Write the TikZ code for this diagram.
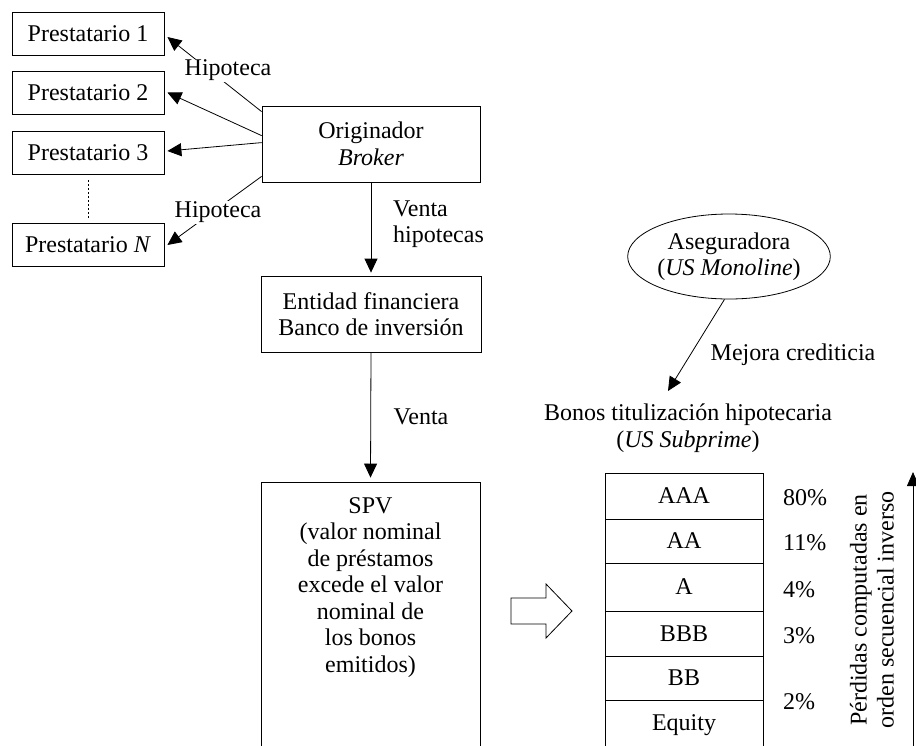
\documentclass[tikz,border=0pt]{standalone}
\usepackage{fontspec}
\setmainfont{Liberation Serif}
\usetikzlibrary{arrows.meta,shapes.geometric}
\begin{document}
\begin{tikzpicture}[x=1pt,y=-1pt,
  every node/.append style={font=\fontsize{24}{26.5}\selectfont},
  box/.style={draw,line width=0.8pt,align=center,inner sep=0pt},
  lbl/.style={inner sep=0pt,align=center},
  arr/.style={line width=0.8pt,-{Triangle[length=14pt,width=13pt]}},
  tranche/.style={box,minimum width=158pt}]
\useasboundingbox (0,0) rectangle (916,745);
\clip (0,0) rectangle (916,745);

% borrowers
\node[box,minimum width=152pt,minimum height=43pt] (p1) at (88,33.5) {Prestatario 1};
\node[box,minimum width=152pt,minimum height=43pt] (p2) at (88,92.5) {Prestatario 2};
\node[box,minimum width=152pt,minimum height=43pt] (p3) at (88,152.5) {Prestatario 3};
\node[box,minimum width=152pt,minimum height=43pt] (pn) at (88,245) {Prestatario \textit{N}};
\path (p3.south) ++(0,-6pt) coordinate (dtop)
  (pn.north) ++(0,5pt) coordinate (dbot);
\draw[line width=0.6pt,dash pattern=on 2pt off 2pt] (dtop) -- (dbot);

% originator and bank chain
\node[box,minimum width=218pt,minimum height=76pt] (orig) at (371,144) {Originador\\\textit{Broker}};
\node[box,minimum width=220pt,minimum height=76pt] (ent) at (371,314) {Entidad financiera\\Banco de inversi\'on};
\node[box,minimum width=219pt,minimum height=318pt] (spvbox) at (370.5,641) {};
\node[lbl] (spvtext) at (370.5,587.5) {SPV\\(valor nominal\\de pr\'estamos\\excede el valor\\nominal de\\los bonos\\emitidos)};

% mortgages to borrowers
\draw[arr] ([yshift=-6pt]orig.north west) -- ([xshift=3pt,yshift=-3.5pt]p1.east);
\draw[arr] ([yshift=-30pt]orig.north west) -- ([xshift=3pt]p2.east);
\draw[arr] ([yshift=-37pt]orig.north west) -- ([xshift=3pt,yshift=1.5pt]p3.east);
\draw[arr] ([yshift=6pt]orig.south west) -- ([xshift=3pt]pn.east);
\node[lbl,fill=white,inner sep=1pt] (hip1) at (228,70) {Hipoteca};
\node[lbl,fill=white,inner sep=1pt] (hip2) at (218,212) {Hipoteca};

\draw[arr] (orig.south) -- ([yshift=3pt]ent.north);
\node[lbl,anchor=west,align=left] (venh) at (393,224) {Venta\\hipotecas};
\draw[arr] (ent.south) -- ([yshift=4pt]spvbox.north);
\node[lbl] (venta) at (421,417) {Venta};

% hollow arrow towards the tranches
\draw[line width=0.8pt,line join=miter] (511,598) -- (546,598) -- (546,584) -- (572,611)
  -- (546,638) -- (546,624) -- (511,624) -- cycle;

% insurer
\node[draw,ellipse,line width=0.8pt,inner sep=0pt,minimum width=200pt,minimum height=85pt,align=center] (ase) at (729,256.5) {Aseguradora\\(\textit{US Monoline})};
\coordinate (bondtip) at (668,391);
\draw[arr] (ase.-96) -- (bondtip);
\node[lbl] (mejora) at (793,355) {Mejora crediticia};
\node[lbl] (bonos) at (688,428) {Bonos titulizaci\'on hipotecaria\\(\textit{US Subprime})};

% tranche stack
\node[tranche,minimum height=46pt] (taaa) at (684,496) {AAA};
\node[tranche,minimum height=44pt] (taa) at (684,541) {AA};
\node[tranche,minimum height=48pt] (ta) at (684,587) {A};
\node[tranche,minimum height=45pt] (tbbb) at (684,633.5) {BBB};
\node[tranche,minimum height=44pt] (tbb) at (684,678) {BB};
\node[tranche,minimum height=50pt] (teq) at (684,725) {Equity};

\node[lbl,anchor=west] (q80) at (783,498) {80\%};
\node[lbl,anchor=west] (q11) at (783,543) {11\%};
\node[lbl,anchor=west] (q4) at (783,590) {4\%};
\node[lbl,anchor=west] (q3) at (783,636) {3\%};
\node[lbl,anchor=west] (q2) at (783,702) {2\%};

\node[lbl,rotate=90,font=\fontsize{24}{27}\selectfont] (loss) at (872,610) {P\'erdidas computadas en\\orden secuencial inverso};
\coordinate (lossbot) at (913,760);
\coordinate (losstop) at (913,472);
\draw[line width=0.8pt,-{Triangle[length=14pt,width=12pt]}] (lossbot) -- (losstop);
\end{tikzpicture}
\end{document}
